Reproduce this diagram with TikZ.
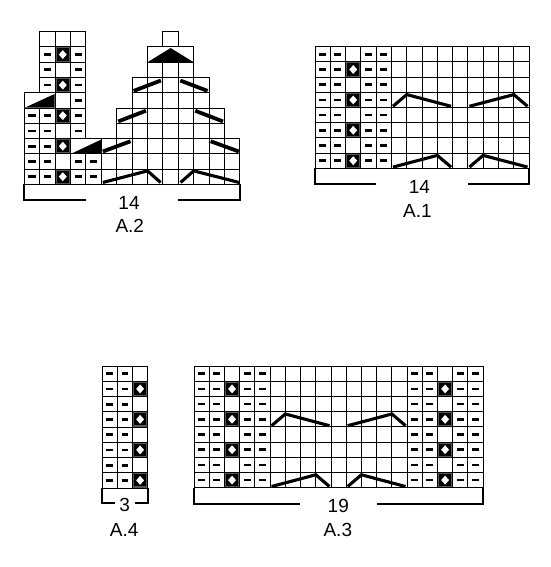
\documentclass[tikz,border=0pt]{standalone}
\usepackage{fontspec}
\setmainfont{Liberation Sans}
\newcommand\cellblock[4]{\foreach \cc in {#1,...,#2}{\foreach \rr in {#3,...,#4}{\draw[gridln] (\cc,\rr) rectangle ++(1,1);}}}
\newcommand\purlat[2]{\fill[black] (#1+0.27,#2+0.41) rectangle (#1+0.73,#2+0.59);}
\newcommand\diaat[2]{\fill[black!65] (#1,#2) rectangle (#1+1,#2+1);
  \fill[black] (#1+0.1,#2+0.1) rectangle (#1+0.9,#2+0.9);
  \fill[white] (#1+0.5,#2+0.21) -- (#1+0.76,#2+0.5) -- (#1+0.5,#2+0.79) -- (#1+0.24,#2+0.5) -- cycle;}
\begin{document}
\begin{tikzpicture}[x=1pt,y=1pt,
  gridln/.style={draw=black, line width=0.95pt},
  cable/.style={line width=3.1pt, line join=miter},
  cablethick/.style={line width=3.8pt},
  brkt/.style={line width=1.9pt, line join=miter},
  lbl/.style={font=\fontsize{19}{21}\selectfont, inner sep=0pt}]
\useasboundingbox (0,-567) rectangle (550,0);

% ---------------- A.2 ----------------
\begin{scope}[shift={(24.3,-184.3)}, x=15.4pt, y=15.26pt]
  \foreach \a/\b in {0/0,1/0,3/0,4/0,0/1,1/1,3/1,4/1,0/2,1/2,0/3,1/3,3/3,0/4,1/4,3/4,3/5,1/6,3/6,1/7,3/7,1/8,3/8}{\purlat{\a}{\b}}
  \foreach \b in {0,2,4,6,8}{\diaat{2}{\b}}
  \cellblock{0}{13}{0}{1}
  \cellblock{0}{2}{2}{2}
  \cellblock{5}{13}{2}{2}
  \draw[gridln] (3,2) rectangle (5,3);
  \cellblock{0}{3}{3}{4}
  \cellblock{6}{12}{3}{4}
  \draw[gridln] (0,5) rectangle (2,6);
  \cellblock{2}{3}{5}{5}
  \cellblock{7}{11}{5}{6}
  \cellblock{1}{3}{6}{9}
  \cellblock{8}{10}{7}{7}
  \draw[gridln] (8,8) rectangle (11,9);
  \cellblock{9}{9}{9}{9}
  \fill[black] (0.05,5.03) -- (1.97,5.03) -- (1.97,5.92) -- cycle;
  \fill[black] (3.1,2.03) -- (4.97,2.03) -- (4.97,2.92) -- cycle;
  \fill[black] (8.05,8.03) -- (10.95,8.03) -- (9.5,8.93) -- cycle;
  \draw[cable] (5.1,0.12) -- (8.0,0.88) -- (8.85,0.12);
  \draw[cable] (10.15,0.12) -- (11.0,0.88) -- (13.95,0.12);
  \draw[cablethick] (5.1,2.15) -- (6.9,2.82);
  \draw[cablethick] (12.1,2.82) -- (13.93,2.15);
  \draw[cablethick] (6.1,4.12) -- (7.9,4.82);
  \draw[cablethick] (11.1,4.82) -- (12.9,4.12);
  \draw[cablethick] (7.1,6.12) -- (8.87,6.8);
  \draw[cablethick] (10.13,6.8) -- (11.9,6.12);
  \draw[brkt] (0,0) -- (0,-1.03) -- (4,-1.03);
  \draw[brkt] (10,-1.03) -- (14,-1.03) -- (14,0);
  \node[lbl] (n2) at (6.8,-1.2) {14};
  \node[lbl] (t2) at (6.85,-2.75) {A.2};
\end{scope}

% ---------------- A.1 ----------------
\begin{scope}[shift={(315,-168.3)}, x=15.29pt, y=15.2pt]
  \foreach \a in {0,1,3,4}{\foreach \b in {0,...,7}{\purlat{\a}{\b}}}
  \foreach \b in {0,2,4,6}{\diaat{2}{\b}}
  \cellblock{0}{13}{0}{7}
  \draw[cable] (5.1,0.08) -- (8.0,0.85) -- (8.9,0.08);
  \draw[cable] (10.1,0.08) -- (11.0,0.85) -- (13.9,0.08);
  \draw[cable] (5.1,4.08) -- (6.0,4.85) -- (8.9,4.08);
  \draw[cable] (10.1,4.08) -- (13.0,4.85) -- (13.9,4.08);
  \draw[brkt] (0,0) -- (0,-1.03) -- (4,-1.03);
  \draw[brkt] (10,-1.03) -- (14,-1.03) -- (14,0);
  \node[lbl] (n1) at (6.83,-1.25) {14};
  \node[lbl] (t1) at (6.7,-2.78) {A.1};
\end{scope}

% ---------------- A.4 ----------------
\begin{scope}[shift={(102.3,-488)}, x=15.13pt, y=15.25pt]
  \foreach \a in {0,1}{\foreach \b in {0,...,7}{\purlat{\a}{\b}}}
  \foreach \b in {0,2,4,6}{\diaat{2}{\b}}
  \cellblock{0}{2}{0}{7}
  \draw[brkt] (0,0) -- (0,-1.0) -- (0.83,-1.0);
  \draw[brkt] (2.15,-1.0) -- (3,-1.0) -- (3,0);
  \node[lbl] (n4) at (1.48,-1.1) {3};
  \node[lbl] (t4) at (1.45,-2.72) {A.4};
\end{scope}

% ---------------- A.3 ----------------
\begin{scope}[shift={(194,-487.7)}, x=15.22pt, y=15.2pt]
  \foreach \a in {0,1,3,4,14,15,17,18}{\foreach \b in {0,...,7}{\purlat{\a}{\b}}}
  \foreach \b in {0,2,4,6}{\diaat{2}{\b}\diaat{16}{\b}}
  \cellblock{0}{18}{0}{7}
  \draw[cable] (5.1,0.08) -- (8.0,0.85) -- (8.9,0.08);
  \draw[cable] (10.1,0.08) -- (11.0,0.85) -- (13.9,0.08);
  \draw[cable] (5.1,4.08) -- (6.0,4.85) -- (8.9,4.08);
  \draw[cable] (10.1,4.08) -- (13.0,4.85) -- (13.9,4.08);
  \draw[brkt] (0,0) -- (0,-1.07) -- (6.95,-1.07);
  \draw[brkt] (12.05,-1.07) -- (19,-1.07) -- (19,0);
  \node[lbl] (n3) at (9.48,-1.2) {19};
  \node[lbl] (t3) at (9.45,-2.75) {A.3};
\end{scope}
\end{tikzpicture}
\end{document}
